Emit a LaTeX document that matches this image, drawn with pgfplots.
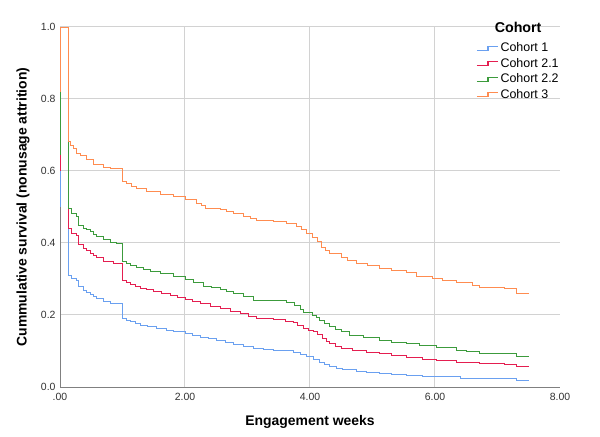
\documentclass[border=0pt]{standalone}
\usepackage{pgfplots}
\pgfplotsset{compat=1.18}
\usepackage{fontspec}
\setmainfont{Liberation Sans}
\definecolor{cblue}{RGB}{106,160,240}
\definecolor{cred}{RGB}{228,30,80}
\definecolor{cgreen}{RGB}{60,155,60}
\definecolor{corange}{RGB}{255,140,80}
\definecolor{gridgray}{RGB}{210,210,210}
\definecolor{axgray}{RGB}{128,128,128}
\definecolor{txtgray}{RGB}{50,50,50}
\begin{document}
\begin{tikzpicture}
\begin{axis}[
  scale only axis, width=500bp, height=360bp,
  xmin=0, xmax=8, ymin=0, ymax=1,
  axis x line=bottom, axis y line=left,
  axis line style={-, draw=axgray, line width=0.8bp},
  xtick={0,2,4,6,8}, xticklabels={.00,2.00,4.00,6.00,8.00},
  ytick={0,0.2,0.4,0.6,0.8,1.0}, yticklabels={0.0,0.2,0.4,0.6,0.8,1.0},
  extra x ticks={2,4,6}, extra x tick labels={},
  extra x tick style={grid=major},
  ymajorgrids=true,
  major grid style={draw=gridgray, line width=1bp},
  major tick length=0pt,
  /pgf/number format/assume math mode=true,
  tick label style={font=\fontsize{10.5}{12}\selectfont, text=txtgray},
  xticklabel style={yshift=-3bp},
  yticklabel style={xshift=-1bp},
  xlabel={\textbf{Engagement weeks}},
  ylabel={\textbf{Cummulative survival (nonusage attrition)}},
  label style={font=\fontsize{14}{16}\selectfont},
  xlabel style={at={(axis description cs:0.5,0)}, anchor=center, yshift=-35bp},
  ylabel style={at={(axis description cs:0,0.5)}, anchor=center, yshift=37bp},
  legend style={at={(axis cs:6.66,0.962)}, anchor=north west, draw=none, fill=none,
    font=\fontsize{12.5}{13}\selectfont, row sep=1bp, inner sep=0pt},
  legend cell align=left,
  legend image code/.code={\draw[#1, line width=1.1bp] (0bp,-2bp) -- (11bp,-2bp) -- (11bp,2bp) -- (21bp,2bp);},
  clip=false
]
\addplot[const plot, draw=cblue, line width=0.9bp] coordinates {(0,0.50) (0,1) (0.143,0.311) (0.19,0.302) (0.27,0.297) (0.29,0.279) (0.37,0.269) (0.43,0.263) (0.48,0.258) (0.54,0.251) (0.59,0.246) (0.69,0.237) (0.8,0.232) (1.0,0.19) (1.06,0.185) (1.12,0.181) (1.2,0.176) (1.28,0.172) (1.4,0.167) (1.55,0.162) (1.7,0.158) (1.81,0.155) (2.0,0.149) (2.12,0.144) (2.24,0.139) (2.38,0.134) (2.51,0.128) (2.64,0.124) (2.77,0.119) (2.93,0.113) (3.09,0.107) (3.25,0.104) (3.41,0.102) (3.73,0.097) (3.85,0.090) (3.95,0.084) (4.05,0.077) (4.15,0.069) (4.23,0.063) (4.31,0.057) (4.42,0.052) (4.52,0.048) (4.74,0.044) (4.9,0.041) (5.11,0.039) (5.3,0.035) (5.54,0.032) (5.8,0.030) (6.02,0.028) (6.4,0.025) (6.71,0.023) (7.3,0.019) (7.51,0.019)};
\addlegendentry{Cohort 1}
\addplot[const plot, draw=cred, line width=0.9bp] coordinates {(0,0.60) (0,1) (0.143,0.441) (0.19,0.427) (0.27,0.42) (0.29,0.395) (0.37,0.385) (0.43,0.378) (0.48,0.371) (0.54,0.365) (0.59,0.36) (0.69,0.35) (0.85,0.344) (1.0,0.297) (1.06,0.291) (1.12,0.286) (1.2,0.280) (1.28,0.274) (1.38,0.270) (1.49,0.265) (1.62,0.260) (1.76,0.255) (1.88,0.249) (2.0,0.243) (2.12,0.238) (2.24,0.232) (2.4,0.225) (2.56,0.218) (2.72,0.211) (2.88,0.204) (3.02,0.197) (3.15,0.19) (3.41,0.188) (3.6,0.183) (3.73,0.178) (3.8,0.170) (3.89,0.163) (3.97,0.158) (4.05,0.153) (4.12,0.146) (4.2,0.134) (4.26,0.127) (4.31,0.12) (4.4,0.114) (4.5,0.108) (4.68,0.102) (4.9,0.097) (5.11,0.093) (5.3,0.087) (5.54,0.081) (5.8,0.077) (6.02,0.074) (6.34,0.069) (6.71,0.065) (7.11,0.063) (7.3,0.057) (7.51,0.057)};
\addlegendentry{Cohort 2.1}
\addplot[const plot, draw=cgreen, line width=0.9bp] coordinates {(0,0.645) (0,1) (0.143,0.495) (0.19,0.481) (0.27,0.474) (0.29,0.448) (0.37,0.441) (0.43,0.437) (0.48,0.432) (0.54,0.425) (0.59,0.418) (0.69,0.41) (0.80,0.402) (0.9,0.399) (1.0,0.35) (1.06,0.344) (1.12,0.339) (1.23,0.332) (1.33,0.326) (1.44,0.32) (1.6,0.316) (1.81,0.308) (2.0,0.299) (2.13,0.29) (2.29,0.28) (2.42,0.276) (2.56,0.271) (2.66,0.266) (2.77,0.26) (2.93,0.251) (3.09,0.241) (3.41,0.240) (3.63,0.234) (3.75,0.226) (3.84,0.216) (3.9,0.206) (4.04,0.199) (4.1,0.192) (4.15,0.185) (4.23,0.176) (4.31,0.167) (4.4,0.160) (4.5,0.153) (4.63,0.144) (4.85,0.137) (5.11,0.130) (5.3,0.125) (5.54,0.120) (5.75,0.116) (6.02,0.109) (6.34,0.102) (6.5,0.098) (6.71,0.094) (7.11,0.093) (7.3,0.085) (7.51,0.085)};
\addlegendentry{Cohort 2.2}
\addplot[const plot, draw=corange, line width=0.9bp] coordinates {(0,0.82) (0,1) (0.143,0.682) (0.16,0.672) (0.22,0.662) (0.27,0.65) (0.32,0.643) (0.43,0.631) (0.53,0.619) (0.69,0.611) (0.80,0.607) (1.0,0.571) (1.07,0.565) (1.15,0.558) (1.23,0.552) (1.39,0.543) (1.6,0.536) (1.81,0.529) (2.0,0.520) (2.19,0.511) (2.26,0.504) (2.32,0.497) (2.56,0.492) (2.66,0.487) (2.77,0.481) (2.93,0.474) (3.05,0.468) (3.15,0.462) (3.41,0.460) (3.63,0.455) (3.79,0.446) (3.87,0.437) (3.95,0.426) (4.04,0.415) (4.12,0.403) (4.18,0.389) (4.25,0.380) (4.31,0.372) (4.5,0.361) (4.6,0.352) (4.74,0.344) (4.92,0.337) (5.11,0.329) (5.3,0.323) (5.54,0.317) (5.7,0.308) (5.96,0.302) (6.12,0.296) (6.34,0.290) (6.6,0.282) (6.71,0.276) (7.11,0.273) (7.3,0.26) (7.51,0.26)};
\addlegendentry{Cohort 3}
\node[font=\fontsize{14.3}{16}\selectfont\bfseries, anchor=center] at (axis cs:7.33,1.0) {Cohort};
\end{axis}
\pgfresetboundingbox
\path[use as bounding box] (-60bp,-50bp) rectangle (540bp,387bp);
\end{tikzpicture}
\end{document}
